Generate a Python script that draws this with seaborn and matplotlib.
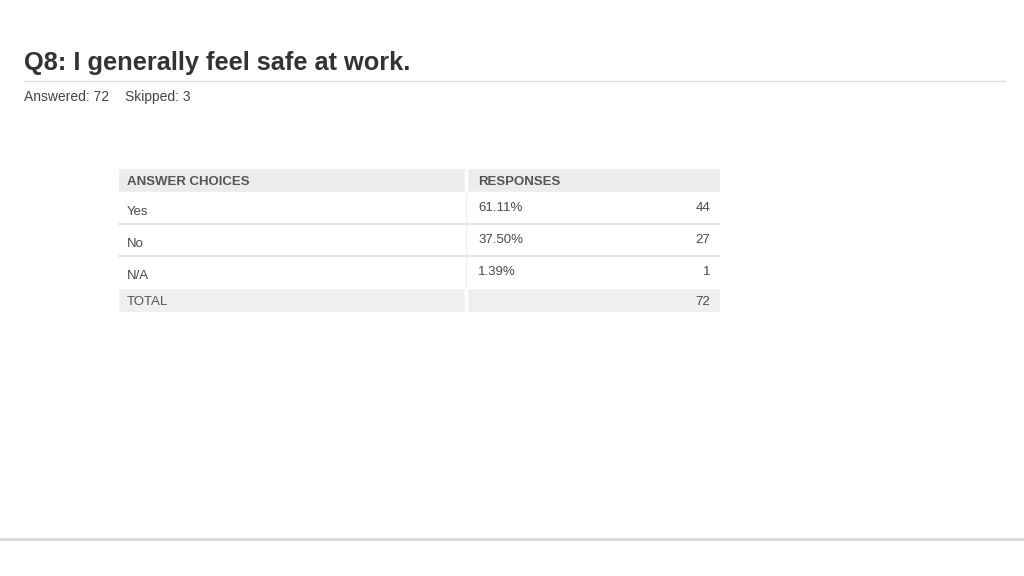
import seaborn as sns
import matplotlib.pyplot as plt

# Survey results
title = "Q8: I generally feel safe at work."
answered = 72
skipped = 3
choices = ["Yes", "No", "N/A"]
percents = [61.11, 37.50, 1.39]
counts = [44, 27, 1]
total = 72

sns.set_theme(style="white")
plt.rcParams['font.family'] = ['Liberation Sans', 'DejaVu Sans']

W, H = 1024, 576
fig = plt.figure(figsize=(W / 100, H / 100), dpi=100)
fig.patch.set_facecolor("white")

# header area
fig.text(24 / W, 1 - 70 / H, title, fontsize=18.3, fontweight="bold",
         color="#333333", va="baseline", ha="left")
fig.add_artist(plt.Line2D([24 / W, 1005 / W], [1 - 81 / H, 1 - 81 / H],
                          color="#dddddd", lw=1))
fig.text(24 / W, 1 - 101 / H, f"Answered: {answered}", fontsize=10,
         color="#444444", va="baseline")
fig.text(125 / W, 1 - 101 / H, f"Skipped: {skipped}", fontsize=10,
         color="#444444", va="baseline")
fig.add_artist(plt.Line2D([0, 1], [1 - 539 / H, 1 - 539 / H],
                          color="#d8d8d8", lw=2))

# table axes in pixel units
tl, tt, tw, th = 118, 168, 602, 144
ax = fig.add_axes([tl / W, 1 - (tt + th) / H, tw / W, th / H])
ax.set_xlim(0, tw)
ax.set_ylim(th, 0)
ax.axis("off")

split = 348  # column divider (466 - 118)
head_h, row_h, tot_h = 24, 32, 25
hdr_col = "#ececec"
txt_col = "#4a4a4a"

# header row
ax.barh(head_h / 2, split - 1, height=head_h, left=0, color=hdr_col)
ax.barh(head_h / 2, tw - split - 1, height=head_h, left=split + 1, color=hdr_col)
ax.text(9, 17, "ANSWER CHOICES", fontsize=9.5, fontweight="bold",
        color="#555555", va="baseline")
ax.text(split + 12, 17, "RESPONSES", fontsize=9.5,
        fontweight="bold", color="#555555", va="baseline")

# data rows
for i, (c, p, n) in enumerate(zip(choices, percents, counts)):
    y0 = head_h + i * row_h
    ax.text(9, y0 + 23, c, fontsize=9.5, color=txt_col, va="baseline")
    ax.text(split + 12, y0 + 19, f"{p:.2f}%", fontsize=9.5, color=txt_col,
            va="baseline")
    ax.text(tw - 10, y0 + 19, str(n), fontsize=9.5, color=txt_col,
            va="baseline", ha="right")
    if i < len(choices) - 1:
        ax.plot([0, tw], [y0 + row_h, y0 + row_h], color="#e6e6e6", lw=1.6)
    ax.plot([split, split], [y0 + 1, y0 + row_h - 1], color="#f0f0f0", lw=1)

# total row
ty = head_h + len(choices) * row_h
ax.barh(ty + tot_h / 2, split - 1, height=tot_h, left=0, color="#efefef")
ax.barh(ty + tot_h / 2, tw - split - 1, height=tot_h, left=split + 1,
        color="#efefef")
ax.text(9, ty + 17, "TOTAL", fontsize=9.5, color="#555555", va="baseline")
ax.text(tw - 10, ty + 17, str(total), fontsize=9.5,
        color=txt_col, va="baseline", ha="right")

fig.savefig("out.png", dpi=100)
